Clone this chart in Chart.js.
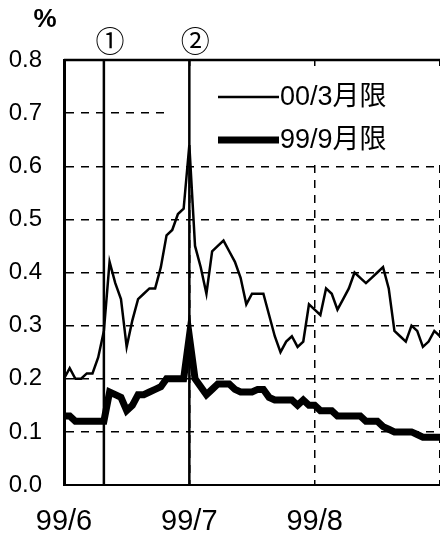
<!DOCTYPE html>
<html>
<head>
<meta charset="utf-8">
<script src="https://cdn.jsdelivr.net/npm/chart.js@4"></script>
<style>
  html, body { margin: 0; padding: 0; background: #fff; overflow: hidden; }
  #myChart { display: block; }
</style>
</head>
<body>
<canvas id="myChart" width="440" height="539"></canvas>
<script>
// business days, 1999-06-01 .. 1999-09-01
const months = ['1999-06', '1999-07', '1999-08', '1999-09'];
const monthTicks = ['99/6', '99/7', '99/8'];

const days = [];
for (let d = new Date(1999, 5, 1); d <= new Date(1999, 8, 1); d.setDate(d.getDate() + 1)) {
  if (d.getDay() === 0 || d.getDay() === 6) continue;
  const m = String(d.getMonth() + 1).padStart(2, '0');
  const dd = String(d.getDate()).padStart(2, '0');
  days.push('1999-' + m + '-' + dd);
}

const mar00 = [0.20, 0.22, 0.20, 0.20, 0.21, 0.21, 0.24, 0.29, 0.42, 0.38,
  0.35, 0.26, 0.31, 0.35, 0.36, 0.37, 0.37, 0.41, 0.47, 0.48,
  0.51, 0.52, 0.64, 0.45, 0.41, 0.36, 0.44, 0.45, 0.46, 0.44,
  0.42, 0.39, 0.34, 0.36, 0.36, 0.36, 0.32, 0.28, 0.25, 0.27,
  0.28, 0.26, 0.27, 0.34, 0.33, 0.32, 0.37, 0.36, 0.33, 0.35,
  0.37, 0.40, 0.39, 0.38, 0.39, 0.40, 0.41, 0.37, 0.29, 0.28,
  0.27, 0.30, 0.29, 0.26, 0.27, 0.29, 0.28];

const sep99 = [0.13, 0.13, 0.12, 0.12, 0.12, 0.12, 0.12, 0.12, 0.175, 0.17,
  0.165, 0.14, 0.15, 0.17, 0.17, 0.175, 0.18, 0.185, 0.20, 0.20,
  0.20, 0.20, 0.28, 0.20, 0.185, 0.17, 0.18, 0.19, 0.19, 0.19,
  0.18, 0.175, 0.175, 0.175, 0.18, 0.18, 0.165, 0.16, 0.16, 0.16,
  0.16, 0.15, 0.16, 0.15, 0.15, 0.14, 0.14, 0.14, 0.13, 0.13,
  0.13, 0.13, 0.13, 0.12, 0.12, 0.12, 0.11, 0.105, 0.10, 0.10,
  0.10, 0.10, 0.095, 0.09, 0.09, 0.09, 0.09];

const eventDays = ['1999-06-10', '1999-07-01'];
const eventMarks = ['①', '②'];

const FONT = '"Liberation Sans", "Noto Sans CJK JP", sans-serif';

function monthIndex(i) {
  const k = months.indexOf(days[i].slice(0, 7));
  const first = days.findIndex(d => d.slice(0, 7) === days[i].slice(0, 7));
  return first === i ? k : -1;
}

const extras = {
  id: 'extras',
  beforeDatasetsDraw(chart) {
    const { ctx, chartArea: a, scales: { x } } = chart;
    ctx.save();
    // legend background
    ctx.fillStyle = '#fff';
    ctx.fillRect(167, 66, 280, 96);
    // top frame line
    ctx.strokeStyle = '#000';
    ctx.lineWidth = 2.5;
    ctx.beginPath();
    ctx.moveTo(a.left, a.top);
    ctx.lineTo(a.right, a.top);
    ctx.stroke();
    // event lines
    eventDays.forEach((d, k) => {
      const px = x.getPixelForValue(days.indexOf(d));
      ctx.lineWidth = 2.5;
      ctx.beginPath();
      ctx.moveTo(px, a.top);
      ctx.lineTo(px, a.bottom);
      ctx.stroke();
      ctx.fillStyle = '#000';
      ctx.font = '29px "Noto Sans CJK JP"';
      ctx.textAlign = 'center';
      ctx.textBaseline = 'middle';
      ctx.fillText(eventMarks[k], px + 6, 41);
    });
    ctx.restore();
  },
  afterDraw(chart) {
    const { ctx } = chart;
    ctx.save();
    ctx.fillStyle = '#000';
    ctx.font = 'bold 26px ' + FONT;
    ctx.textAlign = 'center';
    ctx.textBaseline = 'middle';
    ctx.fillText('%', 45, 20);
    // legend
    chart.data.datasets.forEach((ds, k) => {
      const y = 97 + k * 43;
      ctx.strokeStyle = '#000';
      ctx.lineWidth = ds.borderWidth;
      ctx.lineCap = 'butt';
      ctx.beginPath();
      ctx.moveTo(218, y);
      ctx.lineTo(279, y);
      ctx.stroke();
      ctx.font = '27px ' + FONT;
      ctx.textAlign = 'left';
      ctx.fillText(ds.label, 280, y + 1);
    });
    ctx.restore();
  }
};

new Chart(document.getElementById('myChart'), {
  type: 'line',
  data: {
    labels: days,
    datasets: [{
      label: '00/3月限',
      data: mar00,
      borderColor: '#000',
      borderWidth: 2.5,
      pointRadius: 0,
      tension: 0
    }, {
      label: '99/9月限',
      data: sep99,
      borderColor: '#000',
      borderWidth: 7,
      pointRadius: 0,
      tension: 0
    }]
  },
  options: {
    responsive: false,
    animation: false,
    events: [],
    layout: { padding: { top: 60, right: 0, left: 0, bottom: 0 } },
    plugins: {
      legend: { display: false },
      tooltip: { enabled: false }
    },
    scales: {
      x: {
        afterFit: s => { s.height = 54; },
        border: { color: '#000', width: 2, dash: [8, 7] },
        grid: {
          drawTicks: false,
          lineWidth: 1.5,
          color: c => (c.index > 0 && monthIndex(c.index) > 0) ? '#000' : 'rgba(0,0,0,0)'
        },
        ticks: {
          autoSkip: false,
          maxRotation: 0,
          padding: 0,
          color: '#000',
          font: { family: FONT, size: 29, lineHeight: 2.55 },
          callback: (v, i) => {
            const k = monthIndex(i);
            return k >= 0 && monthTicks[k] ? monthTicks[k] : '';
          }
        }
      },
      y: {
        min: 0,
        max: 0.8,
        afterFit: s => { s.width = 64; },
        border: { color: '#000', width: 3, dash: [8, 7] },
        grid: {
          drawTicks: false,
          lineWidth: 1.5,
          color: c => (c.tick.value > 0.01 && c.tick.value < 0.79) ? '#000' : 'rgba(0,0,0,0)'
        },
        ticks: {
          stepSize: 0.1,
          padding: 22,
          color: '#000',
          font: { family: FONT, size: 24 },
          callback: v => v.toFixed(1)
        }
      }
    }
  },
  plugins: [extras]
});
</script>
</body>
</html>
